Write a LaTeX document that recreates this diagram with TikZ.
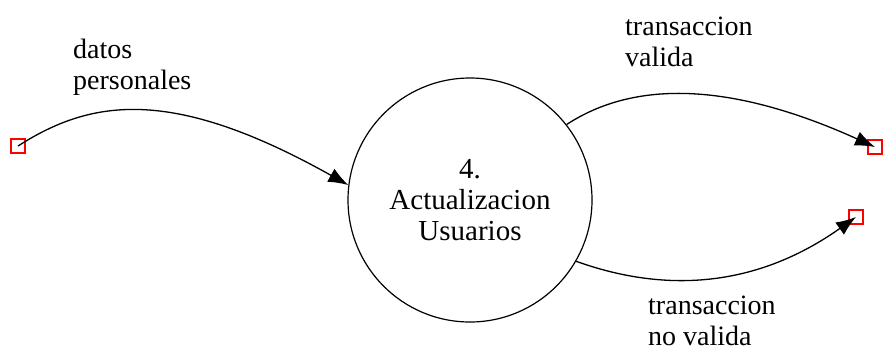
\documentclass[tikz,border=0pt]{standalone}
\usepackage{fontspec}
\setmainfont{Liberation Serif}
\usetikzlibrary{arrows.meta}
\begin{document}
\begin{tikzpicture}[x=1pt,y=-1pt,
  lbl/.style={font=\fontsize{28}{31}\selectfont, align=left, inner sep=0pt},
  term/.style={draw=red, line width=1.2pt, minimum size=14pt, inner sep=0pt},
  flow/.style={line width=1.3pt, -{Latex[length=20pt,width=15pt]}},
  proc/.style={draw, circle, line width=1.2pt, minimum size=244pt, inner sep=0pt, align=center, font=\fontsize{29}{31}\selectfont}]
\useasboundingbox (0,0) rectangle (885,354);
\node[proc] (p) at (470,200) {4.\\Actualizacion\\Usuarios};
\node[term] (s) at (18,146) {};
\node[term] (t1) at (875,147) {};
\node[term] (t2) at (856,217) {};
\node[lbl, anchor=west] (l1) at (73,67) {datos\\personales};
\node[lbl, anchor=west] (l2) at (625,42) {transaccion\\valida};
\node[lbl, anchor=west] (l3) at (648,321) {transaccion\\no valida};
\draw[flow] (s.center) .. controls (90,100) and (170,85) .. (p.173);
\draw[flow] (p.38) .. controls (650,70) and (760,95) .. (t1.center);
\draw[flow] (p.-30) .. controls (670,295) and (760,285) .. (t2.center);
\end{tikzpicture}
\end{document}
